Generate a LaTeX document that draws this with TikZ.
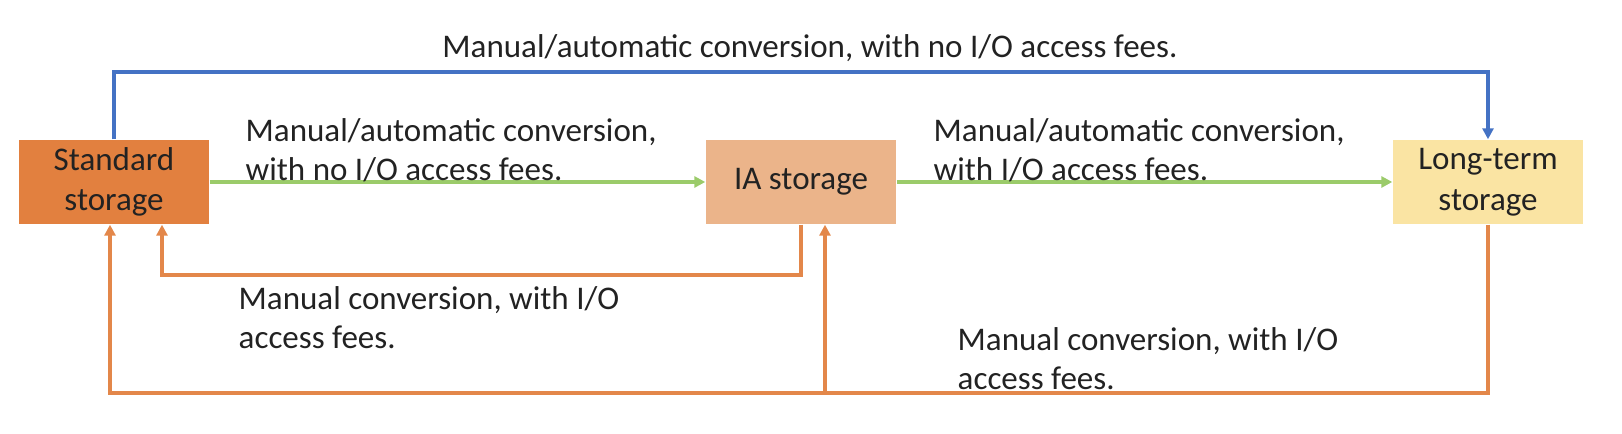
\documentclass[tikz,border=0pt]{standalone}
\usepackage{fontspec}
\setmainfont{Carlito}
\usepackage{tikz}
\usetikzlibrary{arrows.meta}
\definecolor{stdfill}{HTML}{E2803F}
\definecolor{iafill}{HTML}{EBB48A}
\definecolor{ltfill}{HTML}{FAE4A3}
\definecolor{blueline}{HTML}{4472C4}
\definecolor{greenline}{HTML}{9BCB6A}
\definecolor{orangeline}{HTML}{E3874A}
\definecolor{txt}{HTML}{222222}

\begin{document}
\begin{tikzpicture}[font=\fontsize{9.4}{11}\selectfont,
  tier/.style={minimum width=1.9cm, minimum height=0.84cm, inner sep=0pt, align=center, text=txt, font=\fontsize{9.4}{11.6}\selectfont},
  note/.style={anchor=west, align=left, inner sep=0pt, text=txt},
  conn/.style={line width=1pt, -{Triangle[length=1.1mm,width=1.1mm]}}]
  \useasboundingbox (0,0) rectangle (16.22,4.34);
  \node[tier, fill=stdfill] (std) at (1.14,2.52) {Standard\\storage};
  \node[tier, fill=iafill] (ia) at (8.01,2.52) {IA storage};
  \node[tier, fill=ltfill] (lt) at (14.88,2.52) {Long-term\\storage};
  \coordinate (top) at (0,3.62); \coordinate (low) at (0,1.59); \coordinate (bot) at (0,0.41);
  \coordinate (stdin) at ([xshift=4.8mm]std.south); \coordinate (stdout) at ([xshift=-0.4mm]std.south); \coordinate (iain) at ([xshift=2.4mm]ia.south);
  % connectors
  \draw[conn, blueline] (std.north) -- (std.north |- top) -| (lt.north);
  \draw[conn, greenline] (std.east) -- (ia.west); \draw[conn, greenline] (ia.east) -- (lt.west);
  \draw[conn, orangeline] (ia.south) -- (ia.south |- low) -| (stdin);
  \draw[conn, orangeline] (lt.south) -- (lt.south |- bot) -| (stdout);
  \draw[conn, orangeline] (iain |- bot) -- (iain);
  % labels
  \node[text=txt] (ltop) at (8.1,3.86) {Manual/automatic conversion, with no I/O access fees.};
  \node[note] (lstdia) at (2.45,2.835) {Manual/automatic conversion,\\with no I/O access fees.};
  \node[note] (lialt) at (9.33,2.835) {Manual/automatic conversion,\\with I/O access fees.};
  \node[note] (liastd) at (2.38,1.16) {Manual conversion, with I/O\\access fees.};
  \node[note] (lback) at (9.57,0.75) {Manual conversion, with I/O\\access fees.};
\end{tikzpicture}
\end{document}
